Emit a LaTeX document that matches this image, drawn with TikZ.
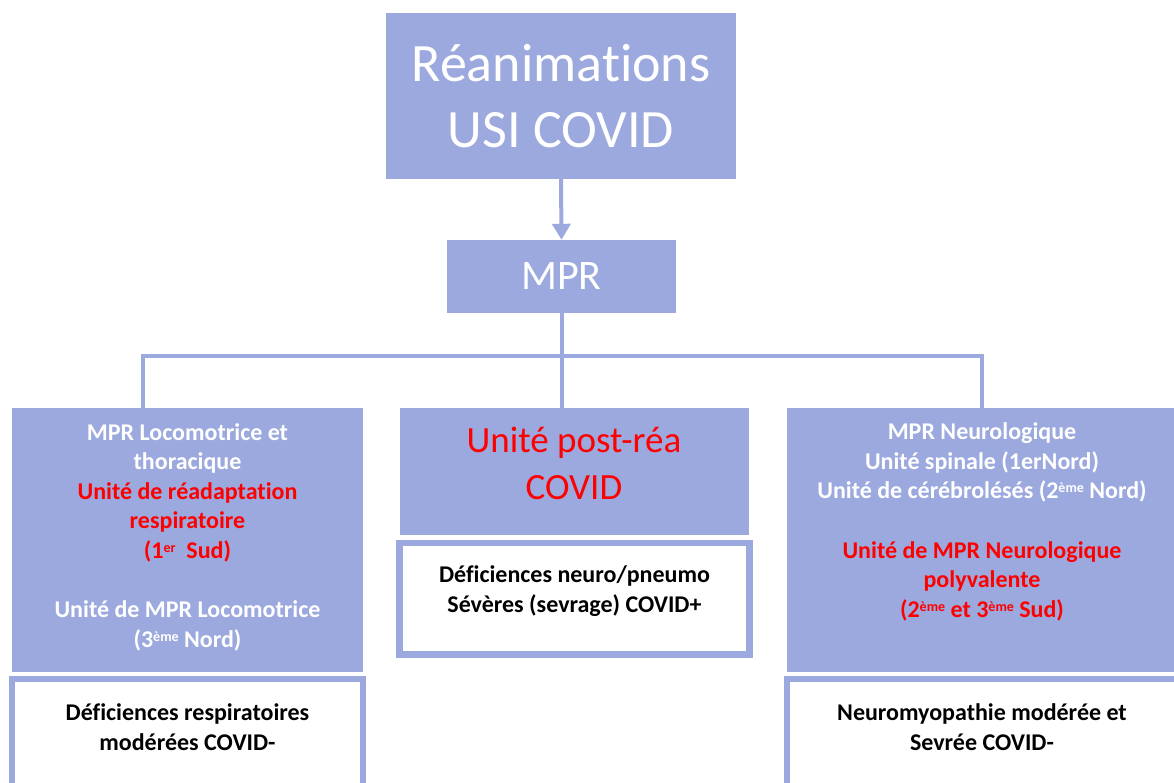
\documentclass[tikz,border=0pt]{standalone}
\usepackage{fontspec}
\setmainfont{Carlito}[Ligatures=NoCommon]
\usetikzlibrary{arrows.meta}
\definecolor{boxblue}{RGB}{156,169,222}
\definecolor{unitred}{RGB}{255,0,0}
\newcommand{\rd}[1]{\textcolor{unitred}{#1}}
\newcommand{\ordsup}[1]{\raisebox{6pt}{\fontsize{14}{14}\selectfont #1}}
\tikzset{
  fillbox/.style={fill=boxblue, text=white, align=center, inner sep=0pt},
  lowbox/.style={draw=boxblue, line width=6.5pt, fill=white, inner sep=0pt},
  unittxt/.style={text=white, align=center, inner sep=0pt, font=\bfseries\fontsize{24}{29.5}\selectfont},
  lowtxt/.style={text=black, align=center, inner sep=0pt, font=\bfseries\fontsize{24}{30}\selectfont},
  link/.style={draw=boxblue, line width=4pt},
}
\begin{document}
\begin{tikzpicture}[x=1pt,y=-1pt]
\useasboundingbox (0,0) rectangle (1174,783);
\clip (0,0) rectangle (1174,783);
\node[fillbox, minimum width=350pt, minimum height=166pt, font=\fontsize{54}{66}\selectfont] (rea) at (561,96) {Réanimations\\USI COVID};
\node[fillbox, minimum width=229pt, minimum height=73pt, font=\fontsize{42}{50}\selectfont] (mpr) at (561.5,276.5) {MPR};
\draw[link, -{Triangle[width=18pt,length=16pt]}] (rea.south) -- (mpr.north);
% branch boxes
\node[fillbox, minimum width=351pt, minimum height=264pt] (loco) at (187.5,540) {};
\node[fillbox, minimum width=349pt, minimum height=127pt] (postrea) at (574.5,471.5) {};
\node[fillbox, minimum width=390pt, minimum height=264pt] (neuro) at (982,540) {};
\node[lowbox, minimum width=351pt, minimum height=122pt] (locolow) at (187.5,740) {};
\node[lowbox, minimum width=350pt, minimum height=111.5pt] (postrealow) at (574.5,598.75) {};
\node[lowbox, minimum width=390pt, minimum height=122pt] (neurolow) at (982,740) {};
% connectors
\coordinate (busL) at (143,356);
\coordinate (busR) at (982,356);
\draw[link] (mpr.south) -- (mpr.south |- postrea.north);
\draw[link] (busL |- loco.north) -- (busL) -- (busR) -- (busR |- neuro.north);
% texts
\node[unittxt] (locotxt) at (187.5,537) {MPR Locomotrice et\\thoracique\\\rd{Unité de réadaptation}\\\rd{respiratoire}\\\rd{(1\ordsup{er}\ \ Sud)}\\[30pt]Unité de MPR Locomotrice\\(3\ordsup{ème} Nord)};
\node[text=unitred, align=center, inner sep=0pt, font=\fontsize{37}{47}\selectfont] (postreatxt) at (574,463.5) {Unité post-réa\\COVID};
\node[unittxt] (neurotxt) at (982,522) {MPR Neurologique\\Unité spinale (1erNord)\\Unité de cérébrolésés (2\ordsup{ème} Nord)\\[30pt]\rd{Unité de MPR Neurologique}\\\rd{polyvalente}\\\rd{(2\ordsup{ème} et 3\ordsup{ème} Sud)}};
\node[lowtxt] (locolowtxt) at (187.5,727) {Déficiences respiratoires\\modérées COVID-};
\node[lowtxt] (postrealowtxt) at (574.5,591.5) {Déficiences neuro/pneumo\\Sévères (sevrage) COVID+};
\node[lowtxt] (neurolowtxt) at (982,727) {Neuromyopathie modérée et\\Sevrée COVID-};
\end{tikzpicture}
\end{document}
